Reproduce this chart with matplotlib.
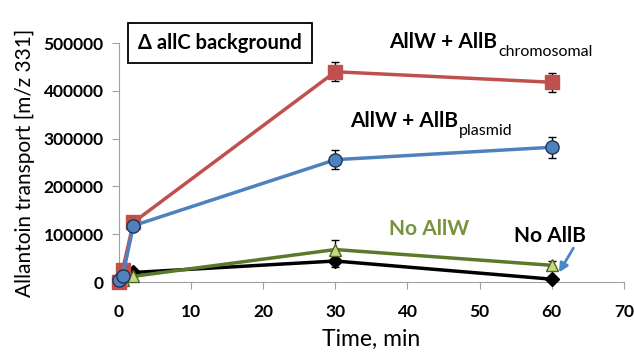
import matplotlib
matplotlib.use("Agg")
import matplotlib.pyplot as plt

plt.rcParams['font.family'] = ['Lato', 'DejaVu Sans']

# time points (min)
time = [0, 0.5, 2, 30, 60]

chromosomal = [0, 25000, 125000, 440000, 418000]
chromosomal_err = [0, 0, 0, 20000, 20000]

plasmid = [5000, 12000, 118000, 256000, 282000]
plasmid_err = [0, 0, 0, 20000, 22000]

no_allw = [0, 5000, 12000, 68000, 35000]
no_allw_err = [0, 0, 0, 20000, 8000]

no_allb = [2000, 16000, 20000, 44000, 6000]
no_allb_err = [0, 0, 0, 12000, 0]

xticks = [0, 10, 20, 30, 40, 50, 60, 70]
yticks = [0, 100000, 200000, 300000, 400000, 500000]

fig = plt.figure(figsize=(6.34, 3.53), dpi=100)
ax = fig.add_axes([0.1877, 0.201, 0.7963, 0.677])

series = [
    (no_allb, no_allb_err, 'black', 'D', 'black', 'black', 7),
    (no_allw, no_allw_err, '#5A7A2A', '^', '#C4DD7A', '#4F6228', 8),
    (chromosomal, chromosomal_err, '#C0504D', 's', '#C0504D', '#C0504D', 10),
    (plasmid, plasmid_err, '#4F81BD', 'o', '#4F81BD', '#1F3550', 9.5),
]
for vals, err, col, mk, mfc, mec, ms in series:
    ax.errorbar(time, vals, yerr=err, color=col, lw=2.5, marker=mk, ms=ms,
                mfc=mfc, mec=mec, mew=1, ecolor='black', elinewidth=1,
                capsize=3, capthick=1, clip_on=False, zorder=3)

ax.set_xlim(0, 70)
ax.set_ylim(0, 500000)
ax.set_xticks(xticks)
ax.set_yticks(yticks)
ax.tick_params(axis='both', direction='out', length=5, color='#A0A0A0',
               labelsize=12.5)
for lab in ax.get_xticklabels() + ax.get_yticklabels():
    lab.set_fontweight('bold')
ax.tick_params(axis='x', pad=11)
ax.tick_params(axis='y', pad=6)

for s in ['top', 'right']:
    ax.spines[s].set_visible(False)
for s in ['left', 'bottom']:
    ax.spines[s].set_color('#A0A0A0')

ax.set_xlabel('Time, min', fontsize=16.5, labelpad=6)
ax.set_ylabel('Allantoin transport [m/z 331]', fontsize=15, labelpad=6)

fig.text(0.347, 0.878, 'Δ allC background', fontsize=14.5, fontweight='bold',
         va='center', ha='center',
         bbox=dict(boxstyle='square,pad=0.5', fc='white', ec='black', lw=1.3))

# series labels with regular-weight subscripts
t1 = ax.text(37.5, 490000, 'AllW + AllB', fontsize=15, fontweight='bold',
             va='baseline', ha='left')
ax.annotate('chromosomal', xy=(1, 0), xycoords=t1, xytext=(1, -3),
            textcoords='offset points', fontsize=11.5, va='baseline', ha='left')
t2 = ax.text(32, 325000, 'AllW + AllB', fontsize=15, fontweight='bold',
             va='baseline', ha='left')
ax.annotate('plasmid', xy=(1, 0), xycoords=t2, xytext=(1, -3),
            textcoords='offset points', fontsize=11.5, va='baseline', ha='left')
ax.text(37.5, 112000, 'No AllW', fontsize=15, fontweight='bold',
        color='#77933C', va='center', ha='left')
ax.text(54.8, 96000, 'No AllB', fontsize=15, fontweight='bold',
        va='center', ha='left')
ax.annotate('', xy=(61.0, 20000), xytext=(63.0, 71000),
            arrowprops=dict(arrowstyle='-|>', color='#4A86C8', lw=2,
                            mutation_scale=13, shrinkA=0, shrinkB=0))

fig.savefig('out.png', dpi=100)
